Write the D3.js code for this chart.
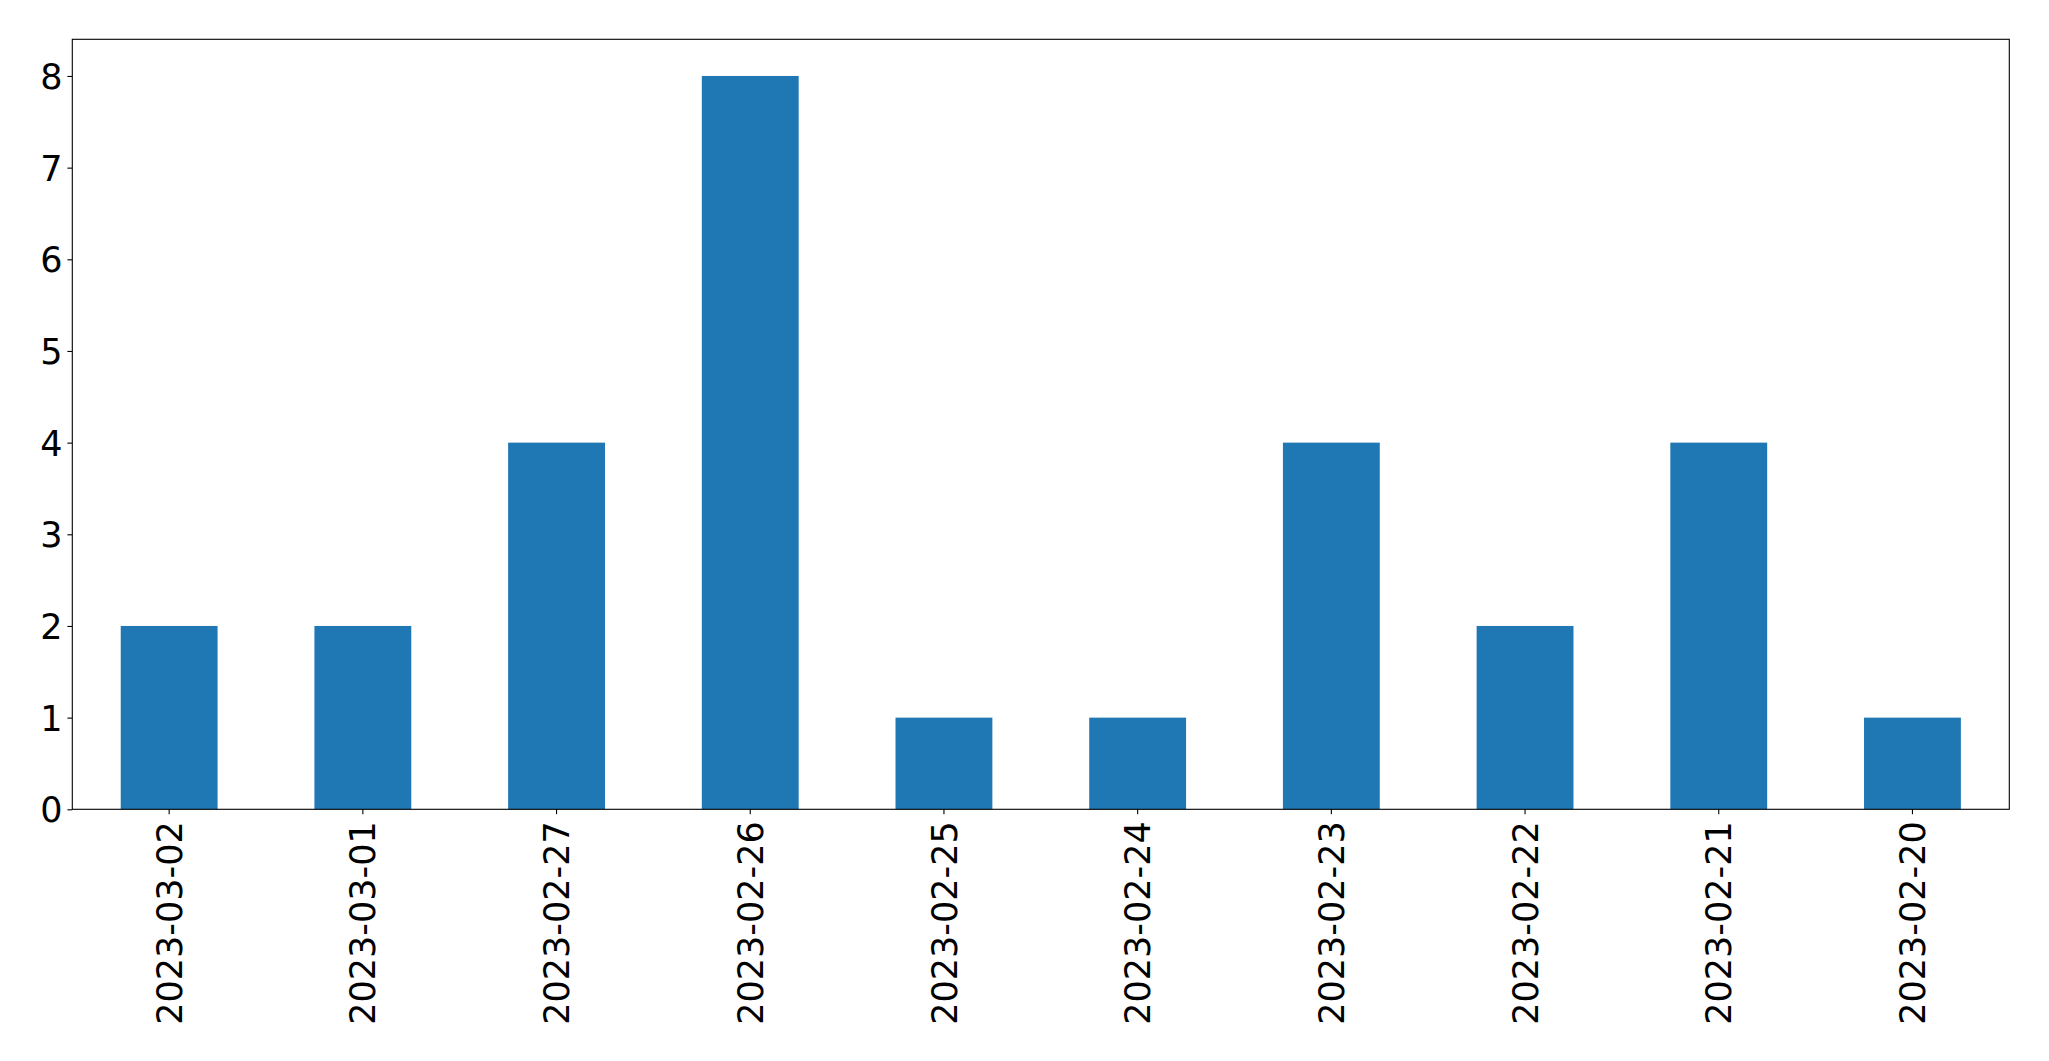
<!DOCTYPE html>
<html>
<head>
<meta charset="utf-8">
<script src="https://cdn.jsdelivr.net/npm/d3@7"></script>
<style>
html,body{margin:0;padding:0;background:#fff;}
svg{display:block;}
text{font-family:"DejaVu Sans",sans-serif;fill:#000;}
</style>
</head>
<body>
<svg id="chart" width="2049" height="1061"></svg>
<script>
const categories = ["2023-03-02","2023-03-01","2023-02-27","2023-02-26","2023-02-25","2023-02-24","2023-02-23","2023-02-22","2023-02-21","2023-02-20"];
const values = [2,2,4,8,1,1,4,2,4,1];
const yTicks = [0,1,2,3,4,5,6,7,8];

(function(){
const mLeft = 72.3, mRight = 2009.3, mTop = 39.3, mBottom = 809.3;
const fontSize = 35;
const fontFam = "DejaVu Sans";

const svg = d3.select("#chart");

const x = d3.scaleBand().domain(categories).range([mLeft, mRight]).paddingInner(0.5).paddingOuter(0.25);
const y = d3.scaleLinear().domain([0, 8.4]).range([mBottom, mTop]);

svg.append("g").selectAll("rect").data(values).join("rect")
  .attr("x", (d,i) => x(categories[i]))
  .attr("width", x.bandwidth())
  .attr("y", d => y(d))
  .attr("height", d => y(0) - y(d))
  .attr("fill", "#1f77b4");

const yAxis = svg.append("g").attr("transform", `translate(${mLeft},0)`)
  .call(d3.axisLeft(y).tickValues(yTicks).tickFormat(d3.format("d")).tickSize(4.9).tickPadding(4.9));
yAxis.select(".domain").remove();
yAxis.selectAll("line").attr("stroke", "#000").attr("stroke-width", 1.1);
yAxis.selectAll("text").attr("font-size", fontSize).attr("font-family", fontFam).attr("dy", "0.36em");

const xAxis = svg.append("g").attr("transform", `translate(0,${mBottom})`)
  .call(d3.axisBottom(x).tickSize(4.9).tickPadding(4.9));
xAxis.select(".domain").remove();
xAxis.selectAll("line").attr("stroke", "#000").attr("stroke-width", 1.1);
xAxis.selectAll("text")
  .attr("font-size", fontSize)
  .attr("font-family", fontFam)
  .attr("text-anchor", "end")
  .attr("dy", "0.36em")
  .attr("y", 0)
  .attr("x", 0)
  .attr("transform", "translate(0,12) rotate(-90)");

svg.append("rect")
  .attr("x", mLeft).attr("y", mTop)
  .attr("width", mRight - mLeft).attr("height", mBottom - mTop)
  .attr("fill", "none").attr("stroke", "#000").attr("stroke-width", 1.1);
})();
</script>
</body>
</html>
